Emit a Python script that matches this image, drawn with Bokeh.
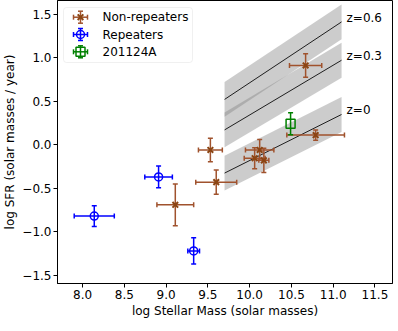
import numpy as np
from bokeh.plotting import figure
from bokeh.models import Range1d, FixedTicker, CustomJSTickFormatter, BoxAnnotation
from bokeh.embed import file_html
from bokeh.resources import INLINE
from bokeh.core.properties import value

# ---------------- data ----------------
# Non-repeaters
nr_mass = [9.11, 9.60, 9.53, 10.12, 10.06, 10.17, 10.79, 10.67]
nr_mass_err = [0.22, 0.245, 0.143, 0.17, 0.125, 0.06, 0.345, 0.193]
nr_sfr = [-0.69, -0.43, -0.06, -0.06, -0.155, -0.18, 0.11, 0.91]
nr_sfr_err = [0.24, 0.14, 0.135, 0.12, 0.12, 0.14, 0.06, 0.135]

# Repeaters
rep_mass = [8.14, 8.91, 9.33]
rep_mass_err = [0.24, 0.165, 0.07]
rep_sfr = [-0.82, -0.37, -1.22]
rep_sfr_err = [0.12, 0.125, 0.15]

# FRB 201124A
frb_mass = [10.49]
frb_mass_err = [0.0]
frb_sfr = [0.24]
frb_sfr_err = [0.127]

# star-forming main sequence bands
sfms_labels = ["z=0", "z=0.3", "z=0.6"]
sfms_mass = [9.7, 11.1]
sfms_sfr_start = [-0.326, 0.17, 0.52]
sfms_sfr_end = [0.347, 0.97, 1.41]
sfms_scatter = 0.2

legend_labels = ["Non-repeaters", "Repeaters", "201124A"]

x_ticks = [8.0, 8.5, 9.0, 9.5, 10.0, 10.5, 11.0, 11.5]
y_ticks = [-1.5, -1.0, -0.5, 0.0, 0.5, 1.0, 1.5]

# ---------------- style ----------------
FONT = "DejaVu Sans"
FS = "12px"
BROWN = "#a0522d"
DBROWN = "#8b4513"
BLUE = "#0000ff"
GREEN = "#008000"
FW, FH = 335, 283
X0, X1 = 7.70, 11.71
Y0, Y1 = -1.594, 1.656

p = figure(frame_width=FW, frame_height=FH, output_backend="svg", toolbar_location=None,
           x_range=Range1d(X0, X1), y_range=Range1d(Y0, Y1),
           min_border_top=0, min_border_right=2, min_border_left=0, min_border_bottom=0)
p.background_fill_color = "white"
p.border_fill_color = "white"
p.outline_line_color = "black"
p.outline_line_width = 1
p.xgrid.visible = False
p.ygrid.visible = False

fmt = CustomJSTickFormatter(code="return tick.toFixed(1).replace('-', '\u2212');")
for ax, ticks in ((p.xaxis[0], x_ticks), (p.yaxis[0], y_ticks)):
    ax.ticker = FixedTicker(ticks=ticks)
    ax.formatter = fmt
    ax.major_tick_in = 0
    ax.major_tick_out = 4
    ax.minor_tick_line_color = None
    ax.major_label_text_font = FONT
    ax.major_label_text_font_size = FS
    ax.major_label_text_color = "black"
    ax.axis_label_text_font = FONT
    ax.axis_label_text_font_size = FS
    ax.axis_label_text_font_style = "normal"
    ax.axis_label_text_color = "black"
    ax.axis_line_color = "black"
    ax.major_tick_line_color = "black"
    ax.major_label_standoff = 2
    ax.axis_label_standoff = 2
p.xaxis.axis_label = "log Stellar Mass (solar masses)"
p.yaxis.axis_label = "log SFR (solar masses / year)"

# ---------------- SFMS bands ----------------
for s0, s1 in zip(sfms_sfr_start, sfms_sfr_end):
    yy = np.array([s0, s1])
    p.varea(x=sfms_mass, y1=yy - sfms_scatter, y2=yy + sfms_scatter,
            fill_color="grey", fill_alpha=0.4)
for s0, s1 in zip(sfms_sfr_start, sfms_sfr_end):
    p.line(x=sfms_mass, y=[s0, s1], line_color="black", line_width=1, line_alpha=0.85)
p.text(x=[sfms_mass[1] + 0.06] * 3, y=[e + 0.05 for e in sfms_sfr_end], text=sfms_labels,
       text_font=value(FONT), text_font_size=FS, text_baseline="middle", text_align="left",
       text_color="black")


def errbars(xs, xe, ys, ye, color, lw=1.5, cap=5, level="glyph"):
    xs, xe, ys, ye = map(lambda a: np.asarray(a, dtype=float), (xs, xe, ys, ye))
    rs = []
    hx = xe > 0
    rs.append(p.segment(x0=xs - xe, y0=ys, x1=xs + xe, y1=ys, line_color=color, line_width=lw))
    rs.append(p.segment(x0=xs, y0=ys - ye, x1=xs, y1=ys + ye, line_color=color, line_width=lw))
    if hx.any():
        rs.append(p.scatter(x=np.concatenate([xs[hx] - xe[hx], xs[hx] + xe[hx]]),
                            y=np.concatenate([ys[hx], ys[hx]]), marker="dash",
                            angle=np.pi / 2, size=cap, line_color=color, line_width=lw))
    rs.append(p.scatter(x=np.concatenate([xs, xs]), y=np.concatenate([ys - ye, ys + ye]),
                        marker="dash", size=cap, line_color=color, line_width=lw))
    for r in rs:
        r.level = level


errbars(nr_mass, nr_mass_err, nr_sfr, nr_sfr_err, BROWN)
p.scatter(x=nr_mass, y=nr_sfr, marker="x", size=8, line_color=DBROWN, line_width=2)
errbars(rep_mass, rep_mass_err, rep_sfr, rep_sfr_err, BLUE)
p.scatter(x=rep_mass, y=rep_sfr, marker="circle", size=8, line_color=BLUE, fill_color=None,
          line_width=1.5)
errbars(frb_mass, frb_mass_err, frb_sfr, frb_sfr_err, GREEN)
p.scatter(x=frb_mass, y=frb_sfr, marker="square", size=9, line_color=GREEN, fill_color=None,
          line_width=1.5)

# ---------------- legend (manual, positioned in frame pixels) ----------------
def sx(px):
    return X0 + px * (X1 - X0) / FW


def sy(py):
    return Y1 - py * (Y1 - Y0) / FH


p.add_layout(BoxAnnotation(left=sx(6), right=sx(135), top=sy(7), bottom=sy(62),
                           fill_color="white", fill_alpha=0.8, line_color="#cccccc",
                           line_width=1, border_radius=3, level="annotation"))
rows = [16.7, 34.0, 51.3]
icon_x = 23
dx = sx(7) - sx(0)
dy = sy(0) - sy(6)
colors = [BROWN, BLUE, GREEN]
for r, c in zip(rows, colors):
    errbars([sx(icon_x)], [dx], [sy(r)], [dy], c, level="overlay")
lg_x = [sx(icon_x)] * 3
lg_y = [sy(r) for r in rows]
m1 = p.scatter(x=lg_x[:1], y=lg_y[:1], marker="x", size=8, line_color=DBROWN, line_width=2)
m2 = p.scatter(x=lg_x[1:2], y=lg_y[1:2], marker="circle", size=8, line_color=BLUE,
               fill_color=None, line_width=1.5)
m3 = p.scatter(x=lg_x[2:], y=lg_y[2:], marker="square", size=9, line_color=GREEN,
               fill_color=None, line_width=1.5)
t = p.text(x=[sx(45)] * 3, y=lg_y, text=legend_labels, text_font=value(FONT),
           text_font_size=FS, text_baseline="middle", text_align="left", text_color="black")
for rr in (m1, m2, m3, t):
    rr.level = "overlay"

open("out.html", "w").write(file_html(p, INLINE))
